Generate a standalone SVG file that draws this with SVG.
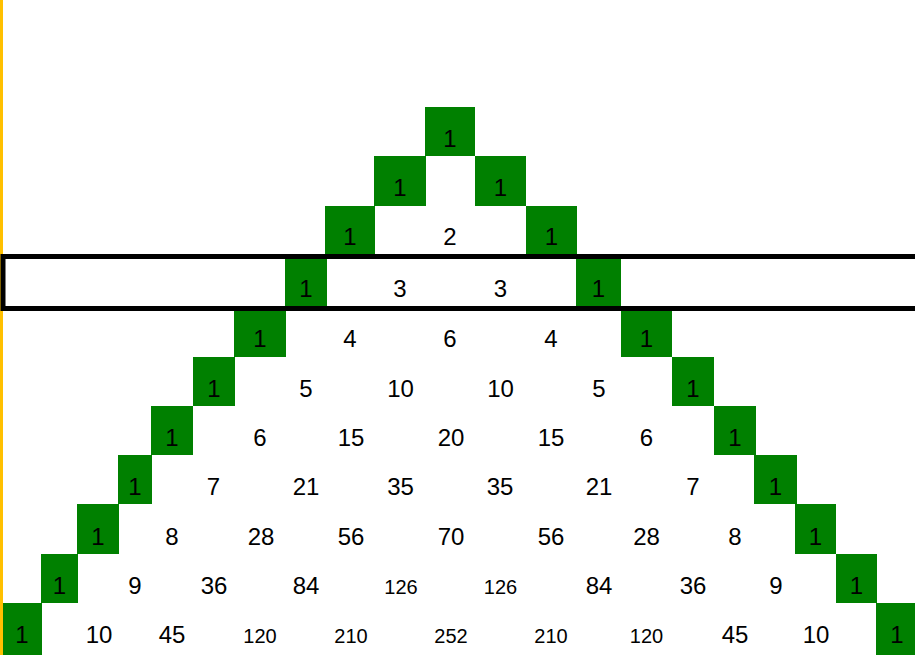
<svg xmlns="http://www.w3.org/2000/svg" width="915" height="655" viewBox="0 0 915 655">
<style>
.g{fill:#008000}
.t{font-family:"Liberation Sans",Arial,sans-serif;font-size:24px;fill:#000;text-anchor:middle}
.s{font-size:20px}
</style>
<rect x="0" y="0" width="915" height="655" fill="#fff"/>
<rect x="0" y="0" width="3" height="655" fill="#FFC000"/>
<g id="row0">
<g id="r0c10"><rect class="g" x="425" y="107" width="50" height="49"/><text class="t" x="450" y="147">1</text></g>
</g>
<g id="row1">
<g id="r1c9"><rect class="g" x="374" y="156" width="52" height="50"/><text class="t" x="400" y="196">1</text></g>
<g id="r1c11"><rect class="g" x="475" y="156" width="51" height="50"/><text class="t" x="500.5" y="196">1</text></g>
</g>
<g id="row2">
<g id="r2c8"><rect class="g" x="325" y="206" width="50" height="49"/><text class="t" x="350" y="245">1</text></g>
<g id="r2c10"><text class="t" x="450" y="245">2</text></g>
<g id="r2c12"><rect class="g" x="526" y="206" width="51" height="49"/><text class="t" x="551.5" y="245">1</text></g>
</g>
<g id="row3">
<g id="r3c7"><rect class="g" x="285" y="259" width="42" height="47"/><text class="t" x="306" y="297">1</text></g>
<g id="r3c9"><text class="t" x="400" y="297">3</text></g>
<g id="r3c11"><text class="t" x="500.5" y="297">3</text></g>
<g id="r3c13"><rect class="g" x="576" y="259" width="45" height="47"/><text class="t" x="598.5" y="297">1</text></g>
</g>
<g id="row4">
<g id="r4c6"><rect class="g" x="234" y="311" width="52" height="46"/><text class="t" x="260" y="347">1</text></g>
<g id="r4c8"><text class="t" x="350" y="347">4</text></g>
<g id="r4c10"><text class="t" x="450" y="347">6</text></g>
<g id="r4c12"><text class="t" x="551" y="347">4</text></g>
<g id="r4c14"><rect class="g" x="621" y="311" width="51" height="46"/><text class="t" x="646.5" y="347">1</text></g>
</g>
<g id="row5">
<g id="r5c5"><rect class="g" x="193" y="357" width="42" height="49"/><text class="t" x="214" y="397">1</text></g>
<g id="r5c7"><text class="t" x="306" y="397">5</text></g>
<g id="r5c9"><text class="t" x="400.5" y="397">10</text></g>
<g id="r5c11"><text class="t" x="500.5" y="397">10</text></g>
<g id="r5c13"><text class="t" x="599" y="397">5</text></g>
<g id="r5c15"><rect class="g" x="672" y="357" width="42" height="49"/><text class="t" x="693" y="397">1</text></g>
</g>
<g id="row6">
<g id="r6c4"><rect class="g" x="151" y="406" width="42" height="49"/><text class="t" x="172" y="446">1</text></g>
<g id="r6c6"><text class="t" x="260" y="446">6</text></g>
<g id="r6c8"><text class="t" x="351" y="446">15</text></g>
<g id="r6c10"><text class="t" x="451" y="446">20</text></g>
<g id="r6c12"><text class="t" x="551" y="446">15</text></g>
<g id="r6c14"><text class="t" x="646.5" y="446">6</text></g>
<g id="r6c16"><rect class="g" x="714" y="406" width="42" height="49"/><text class="t" x="735" y="446">1</text></g>
</g>
<g id="row7">
<g id="r7c3"><rect class="g" x="118" y="455" width="34" height="49"/><text class="t" x="135" y="495">1</text></g>
<g id="r7c5"><text class="t" x="213.5" y="495">7</text></g>
<g id="r7c7"><text class="t" x="306" y="495">21</text></g>
<g id="r7c9"><text class="t" x="400.5" y="495">35</text></g>
<g id="r7c11"><text class="t" x="500" y="495">35</text></g>
<g id="r7c13"><text class="t" x="599" y="495">21</text></g>
<g id="r7c15"><text class="t" x="693" y="495">7</text></g>
<g id="r7c17"><rect class="g" x="754" y="455" width="43" height="49"/><text class="t" x="775.5" y="495">1</text></g>
</g>
<g id="row8">
<g id="r8c2"><rect class="g" x="77" y="504" width="42" height="50"/><text class="t" x="98" y="545">1</text></g>
<g id="r8c4"><text class="t" x="172" y="545">8</text></g>
<g id="r8c6"><text class="t" x="261" y="545">28</text></g>
<g id="r8c8"><text class="t" x="351" y="545">56</text></g>
<g id="r8c10"><text class="t" x="451" y="545">70</text></g>
<g id="r8c12"><text class="t" x="551" y="545">56</text></g>
<g id="r8c14"><text class="t" x="646.5" y="545">28</text></g>
<g id="r8c16"><text class="t" x="735" y="545">8</text></g>
<g id="r8c18"><rect class="g" x="795" y="504" width="41" height="50"/><text class="t" x="815.5" y="545">1</text></g>
</g>
<g id="row9">
<g id="r9c1"><rect class="g" x="41" y="554" width="37" height="49"/><text class="t" x="59.5" y="594">1</text></g>
<g id="r9c3"><text class="t" x="135" y="594">9</text></g>
<g id="r9c5"><text class="t" x="214" y="594">36</text></g>
<g id="r9c7"><text class="t" x="306" y="594">84</text></g>
<g id="r9c9"><text class="t s" x="401" y="594">126</text></g>
<g id="r9c11"><text class="t s" x="500.5" y="594">126</text></g>
<g id="r9c13"><text class="t" x="599" y="594">84</text></g>
<g id="r9c15"><text class="t" x="693" y="594">36</text></g>
<g id="r9c17"><text class="t" x="776" y="594">9</text></g>
<g id="r9c19"><rect class="g" x="836" y="554" width="41" height="49"/><text class="t" x="856.5" y="594">1</text></g>
</g>
<g id="row10">
<g id="r10c0"><rect class="g" x="3" y="603" width="39" height="52"/><text class="t" x="22" y="643">1</text></g>
<g id="r10c2"><text class="t" x="99" y="643">10</text></g>
<g id="r10c4"><text class="t" x="172" y="643">45</text></g>
<g id="r10c6"><text class="t s" x="260" y="643">120</text></g>
<g id="r10c8"><text class="t s" x="351" y="643">210</text></g>
<g id="r10c10"><text class="t s" x="451" y="643">252</text></g>
<g id="r10c12"><text class="t s" x="551" y="643">210</text></g>
<g id="r10c14"><text class="t s" x="646.5" y="643">120</text></g>
<g id="r10c16"><text class="t" x="735" y="643">45</text></g>
<g id="r10c18"><text class="t" x="816" y="643">10</text></g>
<g id="r10c20"><rect class="g" x="876" y="603" width="42" height="52"/><text class="t" x="897" y="643">1</text></g>
</g>
<g id="highlight">
<rect x="3" y="256.5" width="920" height="52" fill="none" stroke="#000" stroke-width="5"/>
</g>
</svg>
